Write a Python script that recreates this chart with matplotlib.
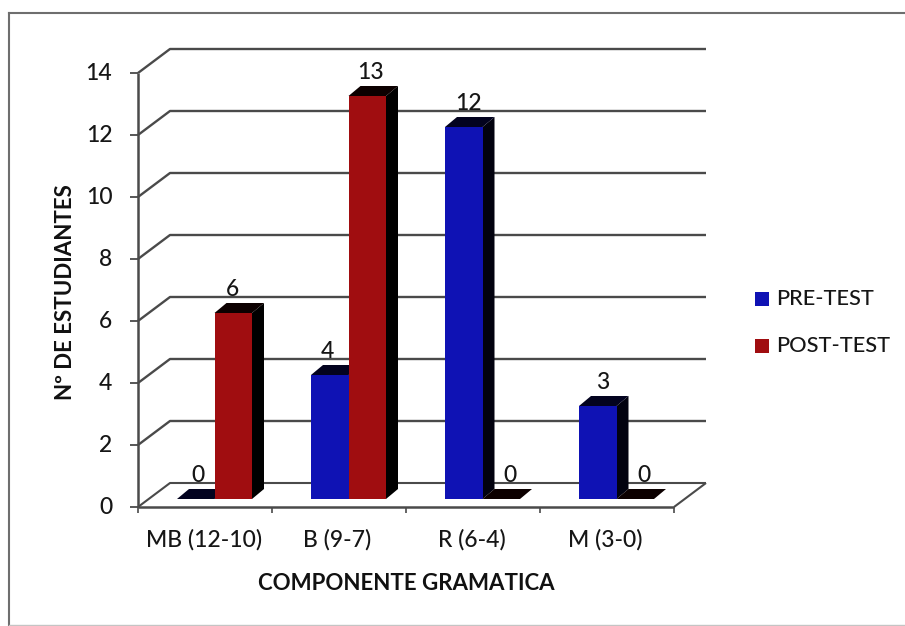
import matplotlib
matplotlib.use("Agg")
import matplotlib.pyplot as plt
from matplotlib.patches import Polygon, Rectangle
from matplotlib.lines import Line2D

plt.rcParams['font.family'] = ['Lato', 'DejaVu Sans']
plt.rcParams['font.weight'] = 'medium'

categories = ["MB (12-10)", "B (9-7)", "R (6-4)", "M (3-0)"]
pre_test = [0, 4, 12, 3]
post_test = [6, 13, 0, 0]
y_ticks = [0, 2, 4, 6, 8, 10, 12, 14]
series_names = ["PRE-TEST", "POST-TEST"]

W, H = 905, 626
fig = plt.figure(figsize=(W / 100, H / 100), dpi=100, facecolor="white")

# Outer chart frame, in figure pixels
fig.add_artist(Line2D([9 / W, 9 / W], [0, 1 - 13 / H], color="#6e6e6e", lw=1.5))
fig.add_artist(Line2D([9 / W, 1], [1 - 13 / H, 1 - 13 / H], color="#6e6e6e", lw=1.5))
fig.add_artist(Line2D([9 / W, 1], [1 - 624.5 / H] * 2, color="#c4c4c4", lw=1))

# Front plane of the 3-D box: one x unit per category, y in student counts
left, right, bottom, top = 138, 674, 507, 73
ax = fig.add_axes([left / W, 1 - bottom / H, (right - left) / W, (bottom - top) / H])
ax.set_xlim(0, len(categories))
ax.set_ylim(0, 14)
ax.axis("off")

px = len(categories) / (right - left)
py = 14 / (bottom - top)
depth_x, depth_y = 32 * px, 24 * py      # full depth of the floor
bar_dx, bar_dy = 12 * px, 10 * py        # depth of each bar
base_y = 8 * py                          # height of the bar feet on the floor
bar_w = 37.5 * px
first_bar = 39 * px                      # gap from category start to first bar

LINE = "#4a4a4a"
TEXT = "#161616"
LABEL_SIZE = 16.5


def line(xs, ys, lw=1.6, color=LINE, z=1):
    ax.plot(xs, ys, color=color, lw=lw, clip_on=False, zorder=z, solid_capstyle="butt")


# Back wall gridlines with their diagonal run to the front axis
for v in y_ticks:
    line([0, depth_x, len(categories) + depth_x],
         [v, v + depth_y, v + depth_y], lw=1.7 if v else 1.5)
    line([-8 * px, 0], [v, v], lw=1.3)

# Front axes, floor edge and category ticks
line([0, 0], [0, 14], lw=1.8, z=2)
line([0, len(categories)], [0, 0], lw=1.8, z=2)
line([len(categories), len(categories) + depth_x], [0, depth_y], lw=1.5, z=2)
for i in range(len(categories) + 1):
    line([i, i], [0, -6 * py], lw=1.2, z=2)


def bar3d(x, value, face, top_face, side_face, z):
    y0, y1 = base_y, base_y + value
    ax.add_patch(Polygon([(x + bar_w, y0), (x + bar_w + bar_dx, y0 + bar_dy),
                          (x + bar_w + bar_dx, y1 + bar_dy), (x + bar_w, y1)],
                         closed=True, fc=side_face, ec="none", clip_on=False, zorder=z))
    ax.add_patch(Polygon([(x, y1), (x + bar_dx, y1 + bar_dy),
                          (x + bar_w + bar_dx, y1 + bar_dy), (x + bar_w, y1)],
                         closed=True, fc=top_face, ec="none", clip_on=False, zorder=z))
    if value > 0:
        ax.add_patch(Rectangle((x, y0), bar_w, value, fc=face, ec="none",
                               clip_on=False, zorder=z + 0.1))


def value_label(x, v, shift):
    ax.annotate(str(v), (x + bar_w / 2 + bar_dx / 2, base_y + v + bar_dy),
                xytext=(shift, 2), textcoords="offset points", ha="center",
                va="bottom", fontsize=LABEL_SIZE, color=TEXT, zorder=20,
                annotation_clip=False)


BLUE, RED = "#0f12b4", "#a00d10"
# Horizontal nudges (points) that keep the value labels clear of neighbouring bars
pre_shift = [-3, -6, -1, -1]
post_shift = [-5, -2, 2, 2]
for i, (a, b) in enumerate(zip(pre_test, post_test)):
    xa = i + first_bar
    xb = xa + bar_w
    bar3d(xa, a, BLUE, "#03031f", "#02020f", 3 + i)
    bar3d(xb, b, RED, "#0c0000", "#000000", 3.5 + i)
    value_label(xa, a, pre_shift[i])
    value_label(xb, b, post_shift[i])

# Tick labels
for v in y_ticks:
    ax.annotate(str(v), (0, v), xytext=(-18.5, 0), textcoords="offset points",
                ha="right", va="center", fontsize=LABEL_SIZE, color=TEXT,
                annotation_clip=False)
for i, name in enumerate(categories):
    ax.annotate(name, (i + 0.5, 0), xytext=(-1, -16), textcoords="offset points",
                ha="center", va="top", fontsize=LABEL_SIZE, color=TEXT,
                annotation_clip=False)

# Axis titles
fig.text(406 / W, 1 - 584 / H, "COMPONENTE GRAMATICA", ha="center", va="center",
         fontsize=16, fontweight="bold", color="#111111")
fig.text(66 / W, 1 - 292 / H, "Nº DE ESTUDIANTES", ha="center", va="center",
         rotation=90, fontsize=16, fontweight="bold", color="#111111")

# Legend
for name, color, y in zip(series_names, [BLUE, RED], [299, 346]):
    fig.add_artist(Rectangle((755 / W, 1 - (y + 7) / H), 14 / W, 14 / H,
                             fc=color, ec="none", transform=fig.transFigure))
    fig.text(776 / W, 1 - y / H, name, ha="left", va="center", fontsize=15.7,
             color=TEXT)

fig.savefig("out.png", dpi=100)
